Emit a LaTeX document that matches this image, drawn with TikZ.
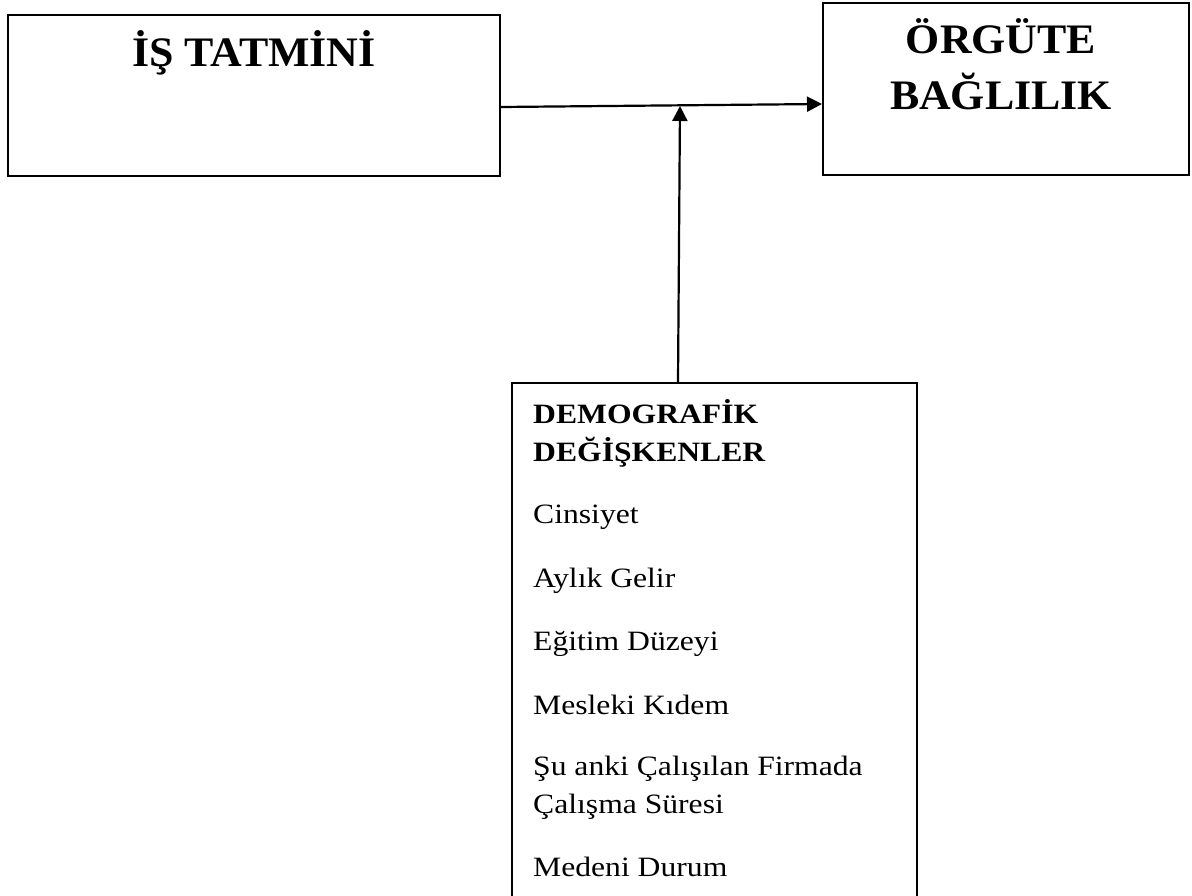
\documentclass[tikz,border=0pt]{standalone}
\usepackage{fontspec}
\setmainfont{Liberation Serif}
\newfontfamily\titlefam[FakeStretch=1.045]{Liberation Serif}
\newfontfamily\boxfam[FakeStretch=1.13]{Liberation Serif}
\usetikzlibrary{arrows.meta}
\tikzset{
  boxed/.style={draw, line width=2pt, inner sep=0pt, minimum width=#1},
  titletext/.style={anchor=base, font=\titlefam\fontsize{42}{56}\selectfont\bfseries, inner sep=0pt},
  headtext/.style={anchor=base west, font=\boxfam\fontsize{28}{38}\selectfont\bfseries, inner sep=0pt},
  itemtext/.style={anchor=base west, font=\boxfam\fontsize{28}{38}\selectfont, inner sep=0pt},
  arr/.style={line width=2.2pt, -{Triangle[length=15pt,width=15pt]}}
}
\begin{document}
\begin{tikzpicture}[x=1pt,y=-1pt]
\useasboundingbox (0,0) rectangle (1192,896);
\clip (0,0) rectangle (1192,896);
\fill[white] (0,0) rectangle (1192,896);
\node[boxed=492pt, minimum height=161pt] (box1) at (254,95.5) {};
\node[boxed=366pt, minimum height=172pt] (box2) at (1006,89) {};
\node[boxed=405pt, minimum height=527pt] (box3) at (714.5,646.5) {};
\node[titletext] (t1) at (254,67) {İŞ TATMİNİ};
\node[titletext] (t2a) at (1001,54) {ÖRGÜTE};
\node[titletext] (t2b) at (1001,110) {BAĞLILIK};
\node[headtext] (h1) at (533,423.3) {DEMOGRAFİK};
\node[headtext] (h2) at (533,461.7) {DEĞİŞKENLER};
\node[itemtext] (i1) at (533,523.3) {Cinsiyet};
\node[itemtext] (i2) at (533,587.3) {Aylık Gelir};
\node[itemtext] (i3) at (533,650) {Eğitim Düzeyi};
\node[itemtext] (i4) at (533,714) {Mesleki Kıdem};
\node[itemtext] (i5) at (533,775) {Şu anki Çalışılan Firmada};
\node[itemtext] (i6) at (533,813.3) {Çalışma Süresi};
\node[itemtext] (i7) at (533,876.7) {Medeni Durum};
\coordinate (mid) at (680,106);
\draw[arr] ([yshift=-11.5pt]box1.east) -- ([yshift=-15pt]box2.west);
\draw[arr] ([xshift=-36.5pt]box3.north) -- (mid);
\end{tikzpicture}
\end{document}
